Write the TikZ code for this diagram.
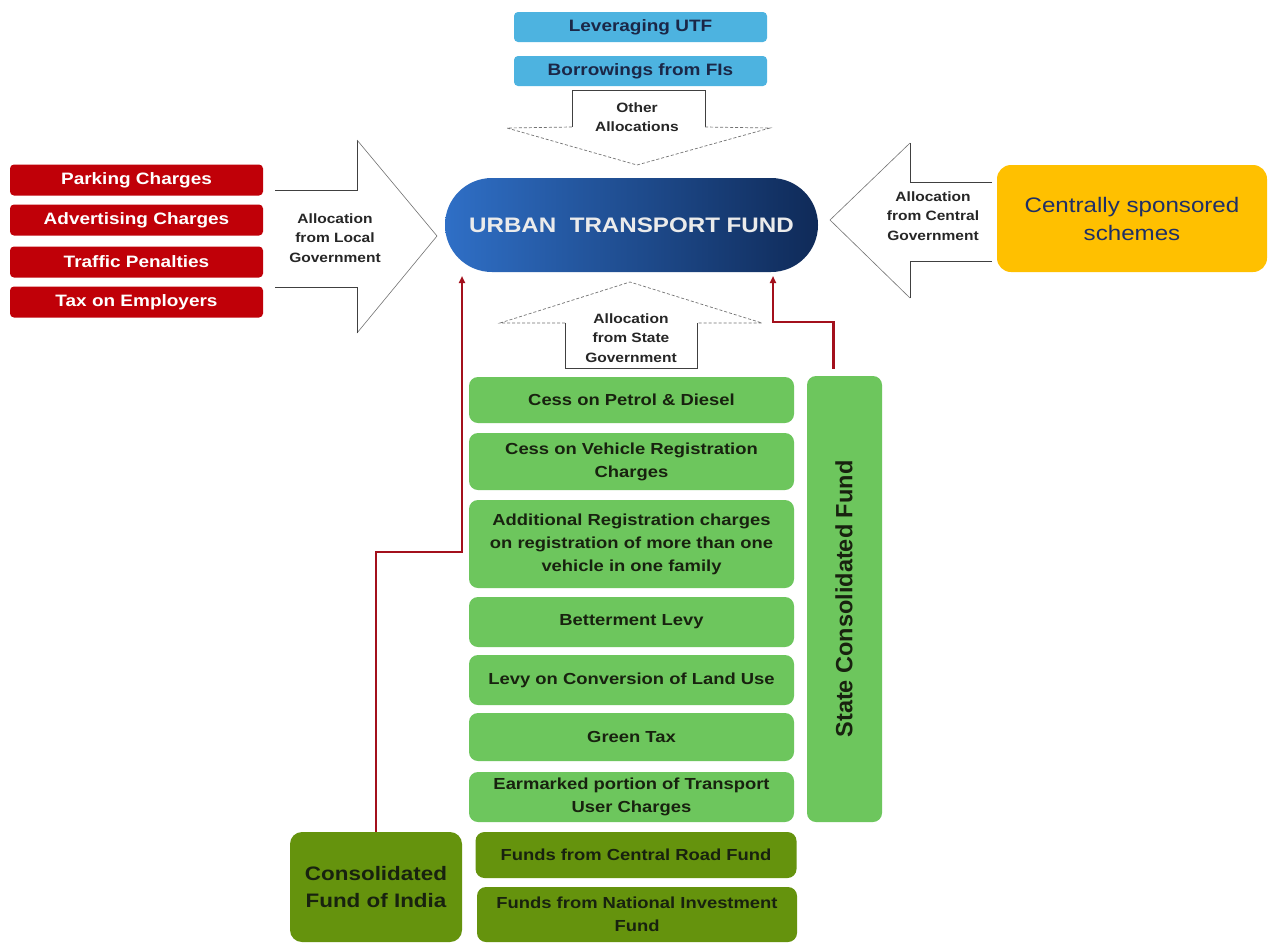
\documentclass[tikz,border=0pt]{standalone}
\usepackage{fontspec}
\setmainfont{Liberation Sans}[FakeStretch=1.15]
\newfontfamily\plainsans{Liberation Sans}
\usetikzlibrary{arrows.meta}

\definecolor{fundred}{HTML}{C00008}
\definecolor{skyblue}{HTML}{4DB3E0}
\definecolor{navytext}{HTML}{1B2747}
\definecolor{utfleft}{HTML}{2F6FC6}
\definecolor{utfright}{HTML}{0F2A58}
\definecolor{schemeyellow}{HTML}{FFC000}
\definecolor{schemetext}{HTML}{1F2F66}
\definecolor{stategreen}{HTML}{6DC65D}
\definecolor{centralolive}{HTML}{65930D}
\definecolor{darktext}{HTML}{18220F}
\definecolor{flowred}{HTML}{A3101C}

\begin{document}
\begin{tikzpicture}[x=1pt,y=-1pt,
  lbl/.style={font=\fontsize{16.5}{20}\selectfont\bfseries, align=center, inner sep=0pt},
  redbox/.style={lbl, fill=fundred, text=white, rounded corners=4pt,
    minimum width=253pt, minimum height=31pt},
  bluebox/.style={lbl, fill=skyblue, text=navytext, rounded corners=4pt,
    minimum width=253pt, minimum height=30pt},
  greenbox/.style={lbl, font=\fontsize{16}{23}\selectfont\bfseries, fill=stategreen,
    text=darktext, rounded corners=9pt, minimum width=325pt},
  olivebox/.style={greenbox, fill=centralolive, minimum width=321pt},
  arrowlbl/.style={font=\fontsize{13.5}{19.5}\selectfont\bfseries, align=center,
    text=black!85, inner sep=0pt},
  blockline/.style={draw=black!75, line width=0.8pt, line join=miter},
  headline/.style={draw=black!55, line width=0.6pt},
  headdash/.style={draw=black!55, line width=0.7pt, dash pattern=on 3pt off 2pt},
  flow/.style={draw=flowred, line width=2.2pt,
    -{Triangle[length=7pt,width=6pt]}}
]
\useasboundingbox[fill=white] (0,0) rectangle (1271,943);

% ---- block arrows ----
% local government (pointing right)
\draw[blockline] (275,190) -- (357,190) -- (357,140);
\draw[headline] (357,140) -- (437,236) -- (357,333);
\draw[blockline] (357,333) -- (357,287) -- (275,287);
\node[arrowlbl] (lbllocal) at (335,238) {Allocation\\from Local\\Government};

% central government (pointing left)
\draw[blockline] (992,182) -- (910,182) -- (910,143);
\draw[headline] (910,143) -- (830,220) -- (910,298);
\draw[blockline] (910,298) -- (910,261) -- (992,261);
\node[arrowlbl] (lblcentral) at (933,216) {Allocation\\from Central\\Government};

% other allocations (pointing down)
\draw[blockline] (572,127) -- (572,90) -- (705,90) -- (705,127);
\draw[headdash] (705,127) -- (770,128) -- (637,165) -- (507,128) -- (572,127);
\node[arrowlbl] (lblother) at (637,117) {Other\\Allocations};

% state government (pointing up)
\draw[headdash] (565,323) -- (500,323) -- (630,282) -- (762,323) -- (697,323);
\draw[blockline] (565,323) -- (565,368) -- (697,368) -- (697,323);
\node[arrowlbl] (lblstate) at (631,338) {Allocation\\from State\\Government};

% ---- central fund ----
\node[lbl, font=\fontsize{21}{24}\selectfont\bfseries, text=white!92!black,
  left color=utfleft, right color=utfright, rounded corners=46.9pt,
  minimum width=373pt, minimum height=94pt] (utf) at (631.5,225)
  {URBAN\ \ TRANSPORT FUND};

% ---- other allocations ----
\node[bluebox] (utfleverage) at (640.5,27) {Leveraging UTF};
\node[bluebox] (borrow) at (640.5,71) {Borrowings from FIs};

% ---- local government sources ----
\node[redbox] (parking) at (136.5,180) {Parking Charges};
\node[redbox] (advert) at (136.5,220) {Advertising Charges};
\node[redbox] (traffic) at (136.5,262) {Traffic Penalties};
\node[redbox] (employers) at (136.5,302) {Tax on Employers};

% ---- central government ----
\node[lbl, font=\fontsize{21}{28}\selectfont, fill=schemeyellow, text=schemetext,
  rounded corners=14pt, minimum width=270pt, minimum height=107pt]
  (schemes) at (1132,218.5) {Centrally sponsored\\schemes};

% ---- state sources ----
\node[greenbox, minimum height=46pt] (petrol) at (631.5,400) {Cess on Petrol \& Diesel};
\node[greenbox, minimum height=57pt] (vehreg) at (631.5,461.5) {Cess on Vehicle Registration\\Charges};
\node[greenbox, minimum height=88pt] (addreg) at (631.5,544)
  {Additional Registration charges\\on registration of more\ than one\\vehicle in one family};
\node[greenbox, minimum height=50pt] (betterment) at (631.5,622) {Betterment Levy};
\node[greenbox, minimum height=50pt] (landuse) at (631.5,680) {Levy on Conversion of Land Use};
\node[greenbox, minimum height=48pt] (greentax) at (631.5,737) {Green Tax};
\node[greenbox, minimum height=50pt] (earmark) at (631.5,797)
  {Earmarked\ portion of Transport\\User Charges};

\node[greenbox, minimum width=75pt, minimum height=446pt] (state) at (844.5,599) {};
\node[lbl, font=\plainsans\fontsize{23.5}{26}\selectfont\bfseries, text=darktext, rotate=90]
  (statelbl) at (844,599) {State Consolidated Fund};

% ---- central sources ----
\node[olivebox, minimum height=46pt] (roadfund) at (636,855) {Funds from\ Central Road Fund};
\node[olivebox, minimum width=320pt, minimum height=55pt] (nif) at (637,914.5)
  {Funds from\ National Investment\\Fund};
\node[lbl, font=\fontsize{19.5}{27}\selectfont\bfseries, fill=centralolive, text=darktext,
  rounded corners=12pt, minimum width=172pt, minimum height=110pt]
  (india) at (376,887) {Consolidated\\Fund of India};

% ---- flows into the fund ----
\coordinate (inleft) at (462,276);
\coordinate (inright) at (773,276);
\draw[flow] (india.north) -- ++(0,-280) -| (inleft);
\draw[flow] ([shift={(-11,-7)}]state.north) -- ++(0,-47) -| (inright);

\end{tikzpicture}
\end{document}
